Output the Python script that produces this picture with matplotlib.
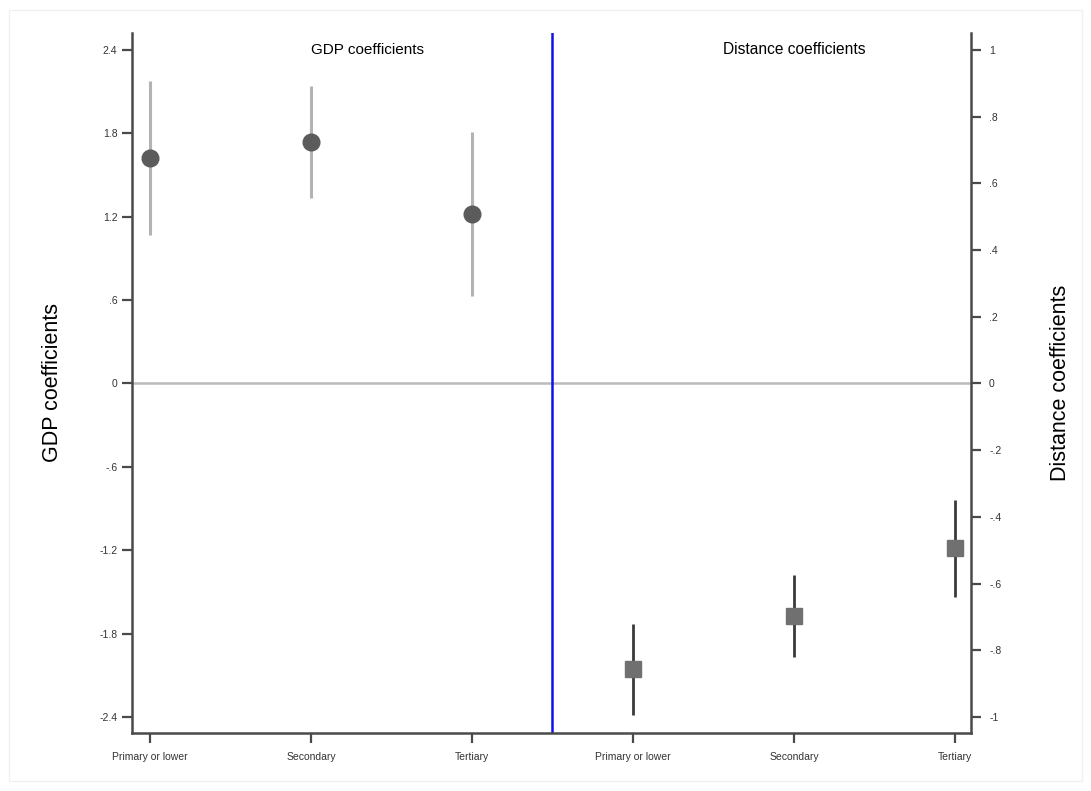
import matplotlib
matplotlib.use('Agg')
import matplotlib.pyplot as plt
from matplotlib.patches import Rectangle

plt.rcParams['font.family'] = ['Liberation Sans', 'DejaVu Sans']

# education levels
levels = ['Primary or lower', 'Secondary', 'Tertiary']

# GDP coefficients (left axis) with confidence bounds
gdp_coef = [1.62, 1.736, 1.221]
gdp_lo = [1.072, 1.336, 0.633]
gdp_hi = [2.175, 2.144, 1.808]

# distance coefficients (right axis) with confidence bounds
dist_coef = [-0.857, -0.697, -0.493]
dist_lo = [-0.993, -0.821, -0.641]
dist_hi = [-0.721, -0.574, -0.348]

# tick labels (Stata style)
left_ticks = [2.4, 1.8, 1.2, 0.6, 0, -0.6, -1.2, -1.8, -2.4]
left_labels = ['2.4', '1.8', '1.2', '.6', '0', '-.6', '-1.2', '-1.8', '-2.4']
right_ticks = [1, 0.8, 0.6, 0.4, 0.2, 0, -0.2, -0.4, -0.6, -0.8, -1]
right_labels = ['1', '.8', '.6', '.4', '.2', '0', '-.2', '-.4', '-.6', '-.8', '-1']

x_gdp = [1, 2, 3]
x_dist = [4, 5, 6]

fig = plt.figure(figsize=(10.91, 7.91), dpi=100)
fig.patches.append(Rectangle((9 / 1091, 10 / 791), 1073 / 1091, 771 / 791,
                             transform=fig.transFigure, fill=False,
                             edgecolor='#f0f0f0', lw=1))
ax = fig.add_axes([132 / 1091, 1 - 733 / 791, (971 - 132) / 1091, 700 / 791])
ax2 = ax.twinx()

spine_c = '#4a4a4a'
for a in (ax, ax2):
    for s in ['left', 'right', 'bottom', 'top']:
        a.spines[s].set_visible(False)
    a.tick_params(length=7, width=1.6, color=spine_c, labelsize=7.5,
                  labelcolor='#333333')
ax.spines['left'].set_visible(True)
ax.spines['bottom'].set_visible(True)
ax2.spines['right'].set_visible(True)
for s in (ax.spines['left'], ax.spines['bottom'], ax2.spines['right']):
    s.set_color(spine_c)
    s.set_linewidth(1.8)

ax.set_xlim(0.888, 6.1)
ax.set_ylim(-2.515, 2.522)
ax2.set_ylim(-2.515 / 2.4, 2.522 / 2.4)

ax.axhline(0, color='#bbbbbb', lw=1.8, zorder=1)
ax.axvline(3.5, color='#1010ee', lw=1.8, zorder=1)

# GDP estimates
ax.vlines(x_gdp, gdp_lo, gdp_hi, color='#b3b3b3', lw=2.2, zorder=2)
ax.plot(x_gdp, gdp_coef, 'o', ms=12, color='#5b5b5b', mec='#5b5b5b', zorder=3)

# distance estimates
ax2.vlines(x_dist, dist_lo, dist_hi, color='#3a3a3a', lw=2.0, zorder=2)
ax2.plot(x_dist, dist_coef, 's', ms=12, color='#707070', mec='#707070', zorder=3)

ax.set_xticks(x_gdp + x_dist)
ax.set_xticklabels(levels + levels)
ax.tick_params(axis='x', pad=7)
ax.set_yticks(left_ticks)
ax.set_yticklabels(left_labels)
ax2.set_yticks(right_ticks)
ax2.set_yticklabels(right_labels)
ax2.tick_params(axis='y', pad=6)

ax.set_ylabel('GDP coefficients', fontsize=15.5, labelpad=26)
ax2.set_ylabel('Distance coefficients', fontsize=15.5, labelpad=35)

ax.text(2.35, 2.4, 'GDP coefficients', ha='center', va='center', fontsize=11)
ax.text(5.0, 2.4, 'Distance coefficients', ha='center', va='center', fontsize=11.2)

fig.savefig('out.png', dpi=100)
